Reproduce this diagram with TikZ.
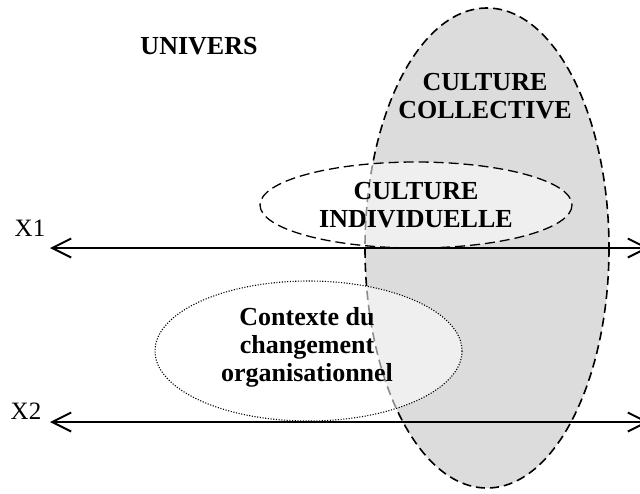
\documentclass[tikz,border=0pt]{standalone}
\usepackage{fontspec}
\setmainfont{Liberation Serif}
\usetikzlibrary{arrows.meta}
\definecolor{bigfill}{RGB}{220,220,220}
\tikzset{
  lbl/.style={font=\fontsize{26}{28}\selectfont\bfseries, align=center, inner sep=0pt},
  axlbl/.style={font=\fontsize{25}{28}\selectfont, inner sep=0pt},
  axis/.style={line width=2pt, {Straight Barb[length=19pt,width=19pt]}-{Straight Barb[length=19pt,width=19pt]}},
  halo/.style={fill=white, fill opacity=0.55}
}
\begin{document}
\begin{tikzpicture}[x=1pt,y=-1pt]
\useasboundingbox (0,0) rectangle (640,493);
\clip (0,0) rectangle (640,493);
% big ellipse
\draw[fill=bigfill, line width=1.6pt, dash pattern=on 9pt off 5pt] (487,248) ellipse [x radius=122, y radius=240];
% culture individuelle ellipse
\draw[halo, line width=1.3pt, dash pattern=on 10pt off 5pt] (416,205) ellipse [x radius=156, y radius=43];
% contexte ellipse
\draw[halo, line width=1.1pt, dash pattern=on 1.1pt off 1.6pt] (308.5,351) ellipse [x radius=153.5, y radius=70];
% axes
\coordinate (a1l) at (50,248);
\coordinate (a1r) at (649,248);
\coordinate (a2l) at (50,422);
\coordinate (a2r) at (649,422);
\draw[axis] (a1l) -- (a1r);
\draw[axis] (a2l) -- (a2r);
% labels
\node[lbl] (univ) at (199,46) {UNIVERS};
\node[lbl] (coll) at (485,96) {CULTURE\\COLLECTIVE};
\node[lbl] (indiv) at (416,205) {CULTURE\\INDIVIDUELLE};
\node[lbl] (ctx) at (307,347) {Contexte du\\changement\\organisationnel};
\node[axlbl] (x1) at (30,228) {X1};
\node[axlbl] (x2) at (26,411) {X2};
\end{tikzpicture}
\end{document}
